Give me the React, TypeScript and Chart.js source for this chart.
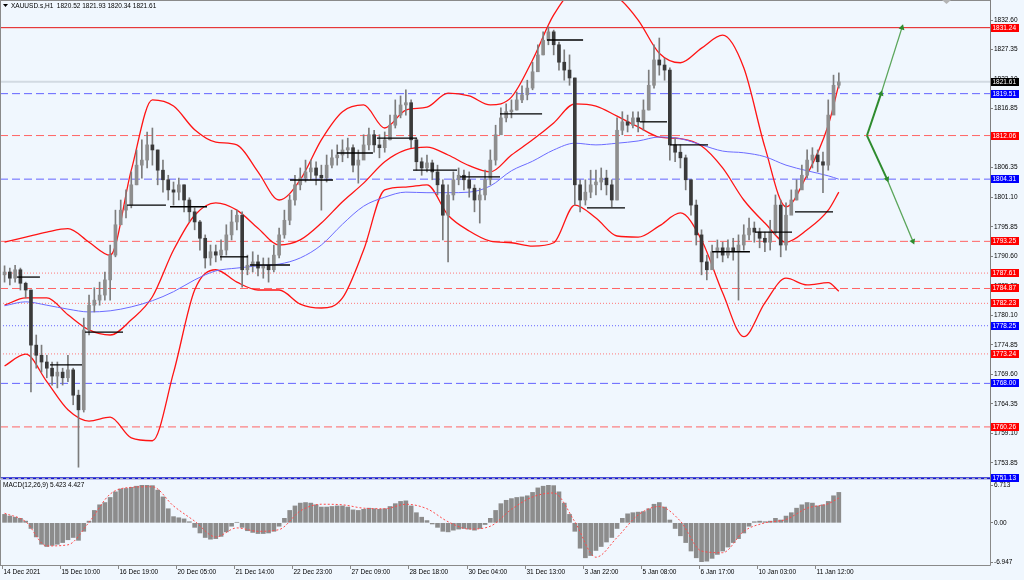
import React, { useEffect, useRef } from 'react';
import { Chart, registerables } from 'chart.js';
Chart.register(...registerables);

const FONT = '"Liberation Sans", Arial, sans-serif';
const BG = '#f0f7fe';

// ---------------- data ----------------
const symbolTitle = 'XAUUSD.s,H1  1820.52 1821.93 1820.34 1821.61';
const macdTitle = 'MACD(12,26,9) 5.423 4.427';
const barHoursStep = 3; // each candle = 3 hours

const opens = [
  1787.3, 1787.8, 1786.7, 1788.2, 1785.8, 1784.6, 1774.8, 1773.0, 1771.8, 1770.7,
  1769.3, 1770.0, 1769.0, 1770.4, 1765.9, 1763.3, 1777.5, 1781.9, 1782.8, 1783.7,
  1786.4, 1790.8, 1796.2, 1798.8, 1799.7, 1803.3, 1806.8, 1807.7, 1810.4, 1809.5,
  1805.9, 1804.2, 1802.4, 1802.0, 1803.3, 1800.6, 1798.5, 1796.7, 1793.8, 1790.3,
  1791.4, 1790.8, 1791.7, 1794.4, 1796.7, 1797.9, 1788.2, 1789.0, 1789.6, 1788.5,
  1789.0, 1788.2, 1790.8, 1794.4, 1797.0, 1800.6, 1803.3, 1804.5, 1805.6, 1806.3,
  1805.0, 1804.5, 1806.8, 1808.1, 1808.6, 1809.5, 1809.9, 1806.8, 1807.7, 1810.4,
  1812.2, 1810.4, 1809.9, 1811.3, 1813.9, 1815.7, 1817.5, 1817.9, 1811.3, 1807.4,
  1806.3, 1807.2, 1805.6, 1803.3, 1797.9, 1801.5, 1804.2, 1805.0, 1804.2, 1802.7,
  1800.6, 1801.5, 1804.2, 1807.7, 1812.2, 1815.2, 1816.3, 1816.6, 1818.4, 1819.3,
  1820.5, 1823.4, 1826.4, 1829.0, 1830.5, 1828.2, 1825.1, 1823.7, 1822.3, 1803.3,
  1800.6, 1802.0, 1803.3, 1803.8, 1804.5, 1803.3, 1800.6, 1813.0, 1814.5, 1813.9,
  1815.2, 1814.5, 1816.6, 1821.0, 1825.5, 1824.6, 1823.7, 1810.4, 1809.1, 1808.1,
  1804.2, 1799.7, 1794.4, 1789.6, 1788.2, 1791.4, 1792.1, 1790.8, 1792.1, 1791.4,
  1792.6, 1794.4, 1795.6, 1794.9, 1793.8, 1793.1, 1794.9, 1799.7, 1792.6, 1797.9,
  1800.6, 1802.4, 1805.0, 1807.7, 1808.6, 1807.4, 1806.8, 1815.7, 1821.0,
];
const highs = [
  1788.9, 1788.5, 1789.0, 1788.5, 1786.0, 1784.6, 1776.6, 1774.8, 1773.0, 1771.8,
  1771.8, 1770.7, 1773.0, 1770.7, 1766.8, 1779.6, 1783.7, 1785.0, 1786.0, 1787.8,
  1792.6, 1798.8, 1800.6, 1802.4, 1805.6, 1809.5, 1811.3, 1812.7, 1813.4, 1809.5,
  1807.7, 1805.0, 1803.8, 1804.5, 1803.3, 1801.0, 1799.2, 1797.0, 1794.4, 1792.6,
  1792.6, 1793.5, 1796.2, 1798.8, 1798.8, 1798.5, 1790.8, 1791.4, 1790.8, 1790.3,
  1790.3, 1792.6, 1795.6, 1798.8, 1801.5, 1805.0, 1806.3, 1807.7, 1807.7, 1807.4,
  1806.8, 1808.6, 1809.5, 1810.4, 1811.3, 1811.6, 1810.4, 1809.5, 1812.2, 1813.4,
  1813.0, 1812.2, 1812.7, 1815.7, 1818.4, 1819.1, 1820.2, 1818.4, 1811.6, 1808.1,
  1808.6, 1807.7, 1806.8, 1804.2, 1803.3, 1805.6, 1806.3, 1805.9, 1805.6, 1803.3,
  1802.7, 1805.9, 1809.5, 1813.9, 1817.0, 1817.7, 1818.4, 1819.8, 1820.9, 1821.9,
  1825.1, 1828.2, 1830.5, 1831.4, 1830.8, 1828.7, 1827.3, 1826.4, 1822.3, 1804.2,
  1804.2, 1805.9, 1805.9, 1806.3, 1805.9, 1804.2, 1815.2, 1816.3, 1815.7, 1816.3,
  1816.3, 1818.4, 1823.7, 1828.2, 1829.4, 1825.8, 1824.1, 1811.6, 1810.4, 1808.6,
  1804.2, 1800.6, 1795.3, 1790.8, 1792.6, 1793.5, 1793.1, 1793.5, 1793.8, 1794.4,
  1796.2, 1797.4, 1796.7, 1795.6, 1794.9, 1797.0, 1801.5, 1800.6, 1800.1, 1802.4,
  1804.2, 1806.8, 1809.5, 1809.9, 1809.5, 1809.1, 1818.4, 1822.8, 1823.2,
];
const lows = [
  1786.0, 1785.5, 1786.0, 1784.6, 1783.2, 1766.5, 1770.7, 1770.0, 1769.0, 1767.7,
  1767.2, 1767.7, 1768.3, 1764.2, 1753.1, 1762.9, 1776.6, 1780.7, 1781.9, 1782.8,
  1782.8, 1790.5, 1796.2, 1797.4, 1799.2, 1803.3, 1804.5, 1806.3, 1806.8, 1803.3,
  1802.0, 1800.6, 1799.7, 1800.6, 1798.5, 1796.7, 1795.3, 1791.7, 1788.5, 1789.0,
  1789.6, 1789.9, 1790.8, 1793.5, 1795.3, 1785.1, 1787.3, 1787.8, 1787.1, 1786.7,
  1786.0, 1787.8, 1790.3, 1793.8, 1796.2, 1799.7, 1802.4, 1803.8, 1804.2, 1803.3,
  1798.8, 1803.8, 1806.3, 1806.8, 1807.4, 1808.1, 1805.6, 1803.6, 1808.1, 1809.5,
  1809.1, 1808.1, 1809.1, 1811.3, 1813.4, 1815.2, 1815.7, 1809.9, 1805.9, 1805.0,
  1805.6, 1804.2, 1801.5, 1793.5, 1789.6, 1800.6, 1803.3, 1802.4, 1801.1, 1798.5,
  1796.5, 1800.6, 1803.3, 1806.8, 1812.2, 1814.5, 1815.2, 1816.6, 1817.9, 1818.4,
  1820.2, 1823.4, 1826.4, 1828.2, 1826.4, 1823.7, 1821.9, 1821.0, 1799.7, 1798.5,
  1799.7, 1801.0, 1801.5, 1802.4, 1801.5, 1799.4, 1800.6, 1812.2, 1812.7, 1813.4,
  1812.7, 1813.0, 1816.6, 1820.5, 1822.8, 1821.9, 1807.7, 1807.4, 1806.3, 1802.4,
  1797.9, 1792.6, 1787.3, 1786.4, 1788.5, 1790.3, 1789.6, 1790.3, 1789.9, 1782.8,
  1791.7, 1793.5, 1793.1, 1792.1, 1791.4, 1791.7, 1794.4, 1790.5, 1791.7, 1798.5,
  1800.6, 1802.7, 1804.5, 1806.3, 1805.6, 1801.9, 1805.9, 1816.6, 1820.5,
];
const closes = [
  1787.8, 1786.7, 1788.2, 1785.8, 1784.6, 1774.8, 1773.0, 1771.8, 1770.7, 1769.3,
  1770.0, 1769.0, 1770.4, 1765.9, 1763.3, 1777.5, 1781.9, 1782.8, 1783.7, 1786.4,
  1790.8, 1796.2, 1798.8, 1799.7, 1803.3, 1806.8, 1807.7, 1810.4, 1809.5, 1805.9,
  1804.2, 1802.4, 1802.0, 1803.3, 1800.6, 1798.5, 1796.7, 1793.8, 1790.3, 1791.4,
  1790.8, 1791.7, 1794.4, 1796.7, 1797.9, 1788.2, 1789.0, 1789.6, 1788.5, 1789.0,
  1788.2, 1790.8, 1794.4, 1797.0, 1800.6, 1803.3, 1804.5, 1805.6, 1806.3, 1805.0,
  1804.5, 1806.8, 1808.1, 1808.6, 1809.5, 1809.9, 1806.8, 1807.7, 1810.4, 1812.2,
  1810.4, 1809.9, 1811.3, 1813.9, 1815.7, 1817.5, 1817.9, 1811.3, 1807.4, 1806.3,
  1807.2, 1805.6, 1803.3, 1797.9, 1801.5, 1804.2, 1805.0, 1804.2, 1802.7, 1800.6,
  1801.5, 1804.2, 1807.7, 1812.2, 1815.2, 1816.3, 1816.6, 1818.4, 1819.3, 1820.5,
  1823.4, 1826.4, 1829.0, 1830.5, 1828.2, 1825.1, 1823.7, 1822.3, 1803.3, 1800.6,
  1802.0, 1803.3, 1803.8, 1804.5, 1803.3, 1800.6, 1813.0, 1814.5, 1813.9, 1815.2,
  1814.5, 1816.6, 1821.0, 1825.5, 1824.6, 1823.7, 1810.4, 1809.1, 1808.1, 1804.2,
  1799.7, 1794.4, 1789.6, 1788.2, 1791.4, 1792.1, 1790.8, 1792.1, 1791.4, 1792.6,
  1794.4, 1795.6, 1794.9, 1793.8, 1793.1, 1794.9, 1799.7, 1792.6, 1797.9, 1800.6,
  1802.4, 1805.0, 1807.7, 1808.6, 1807.4, 1806.8, 1815.7, 1821.0, 1821.6,
];

// indicator samples (every 4th candle + last)
const bandHours = [
  1.5, 13.5, 25.5, 37.5, 49.5, 61.5, 73.5, 85.5, 97.5, 109.5,
  121.5, 133.5, 145.5, 157.5, 169.5, 181.5, 193.5, 205.5, 217.5, 229.5,
  241.5, 253.5, 265.5, 277.5, 289.5, 301.5, 313.5, 325.5, 337.5, 349.5,
  361.5, 373.5, 385.5, 397.5, 409.5, 421.5, 433.5, 445.5, 457.5, 469.5, 475.5,
];
const upperBand = [
  1793.1, 1794.0, 1794.9, 1795.5, 1793.1, 1790.8, 1805.9, 1818.4, 1817.3, 1813.1,
  1810.9, 1810.4, 1805.6, 1800.6, 1804.2, 1811.3, 1816.3, 1817.5, 1813.4, 1816.6,
  1817.1, 1819.6, 1819.1, 1817.5, 1818.9, 1825.5, 1833.5, 1837.6, 1837.6, 1836.7,
  1832.6, 1826.7, 1825.0, 1827.6, 1829.9, 1824.1, 1810.0, 1799.4, 1805.1, 1813.9, 1821.1,
];
const middleBand = [
  1781.9, 1783.2, 1783.2, 1780.2, 1777.5, 1776.6, 1779.3, 1783.4, 1791.7, 1797.9,
  1800.1, 1798.8, 1795.6, 1792.6, 1793.5, 1796.5, 1800.3, 1803.6, 1807.4, 1809.5,
  1810.0, 1808.6, 1806.7, 1805.6, 1808.6, 1811.3, 1814.3, 1817.7, 1817.3, 1815.5,
  1813.6, 1811.8, 1811.5, 1810.2, 1806.3, 1800.6, 1796.5, 1793.1, 1795.3, 1798.8, 1802.0,
];
const lowerBand = [
  1771.1, 1773.2, 1768.3, 1763.3, 1761.3, 1762.0, 1758.3, 1757.8, 1769.9, 1784.6,
  1788.2, 1786.0, 1784.6, 1784.6, 1782.1, 1781.4, 1783.2, 1791.7, 1802.4, 1802.9,
  1803.3, 1797.9, 1795.1, 1793.3, 1793.0, 1792.4, 1793.0, 1799.7, 1797.4, 1794.2,
  1794.0, 1796.0, 1798.3, 1793.5, 1784.1, 1776.3, 1782.3, 1786.7, 1785.5, 1785.9, 1784.4,
];
const blueMA = [
  1781.8, 1782.5, 1781.9, 1781.2, 1780.7, 1780.9, 1781.6, 1782.7, 1784.3, 1786.4,
  1788.0, 1788.5, 1788.9, 1789.2, 1790.3, 1792.6, 1796.3, 1799.5, 1801.1, 1802.0,
  1801.9, 1801.9, 1802.0, 1803.1, 1805.8, 1807.5, 1809.5, 1810.7, 1810.4, 1810.7,
  1811.1, 1811.8, 1811.5, 1810.4, 1809.3, 1809.0, 1808.3, 1806.8, 1805.8, 1804.9, 1804.3,
];

const macdHist = [
  1.5, 1.2, 1.0, 0.8, 0.3, -1.0, -2.5, -3.8, -4.2, -4.0,
  -3.8, -3.5, -3.0, -2.6, -3.1, -1.5, 0.3, 2.2, 3.2, 3.6,
  4.5, 5.5, 6.0, 6.1, 6.3, 6.5, 6.7, 6.7, 6.6, 5.8,
  4.6, 2.5, 1.1, 0.9, 0.7, 0.2, -0.8, -1.8, -2.6, -2.9,
  -2.8, -2.4, -1.6, -0.6, 0.1, -0.8, -1.4, -1.7, -1.9, -1.9,
  -1.8, -1.5, -0.6, 0.8, 2.2, 3.0, 3.5, 3.6, 3.5, 3.2,
  2.8, 2.8, 2.9, 3.0, 3.0, 2.8, 2.3, 2.2, 2.4, 2.6,
  2.5, 2.4, 2.5, 2.9, 3.4, 3.8, 3.9, 3.0, 1.8, 1.0,
  0.4, -0.2, -0.8, -1.5, -1.6, -1.3, -1.1, -1.0, -1.1, -1.3,
  -1.0, -0.3, 0.8, 2.2, 3.4, 4.0, 4.3, 4.5, 4.6, 4.8,
  5.4, 6.2, 6.5, 6.7, 6.6, 5.5, 3.5, 1.5, -1.5, -4.5,
  -6.2, -5.8, -4.9, -4.2, -3.4, -2.6, -1.0, 0.8, 1.6, 1.8,
  1.9, 2.0, 2.5, 3.3, 3.6, 2.8, 0.5, -1.0, -2.3, -3.5,
  -5.0, -6.2, -6.95, -6.8, -6.3, -5.6, -5.0, -4.3, -3.5, -2.8,
  -1.8, -0.6, 0.2, 0.3, 0.2, 0.3, 0.8, 0.5, 1.2, 1.8,
  2.6, 3.2, 3.6, 3.5, 3.0, 3.2, 3.8, 4.8, 5.4,
];
const macdSignal = [
  1.7, 0.2, -4.1, -3.9, 0.1, 5.1, 6.3, 6.4, 3.0, 0.3,
  -2.5, -0.9, -1.5, -1.2, 2.1, 3.3, 3.2, 2.6, 2.5, 3.3,
  2.5, 0.2, -1.1, -0.6, 2.4, 4.6, 5.3, 0.2, -6.1, -2.6,
  1.4, 2.9, 0.3, -5.0, -5.3, -1.5, 0.0, 0.6, 2.6, 3.4, 4.4,
];

const xTickHours = [0, 33, 66, 99, 132, 165, 198, 231, 264, 297, 330, 363, 396, 429, 462];
const xTickLabels = [
  '14 Dec 2021', '15 Dec 10:00', '16 Dec 19:00', '20 Dec 05:00', '21 Dec 14:00',
  '22 Dec 23:00', '27 Dec 09:00', '28 Dec 18:00', '30 Dec 04:00', '31 Dec 13:00',
  '3 Jan 22:00', '5 Jan 08:00', '6 Jan 17:00', '10 Jan 03:00', '11 Jan 12:00',
];
const priceTicks = [
  1832.6, 1827.35, 1822.1, 1816.85, 1811.6, 1806.35, 1801.1, 1795.85,
  1790.6, 1785.35, 1780.1, 1774.85, 1769.6, 1764.35, 1759.1, 1753.85,
];
const macdTicks = [6.713, 0, -6.947];
const macdTickLabels = ['6.713', '0.00', '-6.947'];

const levelPrices = [
  1831.24, 1821.61, 1819.51, 1812.06, 1804.31, 1793.25, 1787.61,
  1784.87, 1782.23, 1778.25, 1773.24, 1768.0, 1760.26, 1751.13,
];
const levelKinds = [
  'redSolid', 'graySolid', 'blueDash', 'redDash', 'blueDash', 'redDash', 'redDot',
  'redDash', 'redDot', 'blueDot', 'redDot', 'blueDash', 'redDash', 'blueSolid',
];

const segStart = [8.6, 27.3, 47.2, 71.1, 95.5, 123.9, 140.9, 163.7, 190.4, 213.1, 233.6, 260.3, 283.0, 309.7, 332.4, 362.5, 379.6, 403.5, 427.9, 450.6];
const segEnd = [21.6, 45.5, 68.8, 93.2, 116.5, 139.8, 163.7, 188.1, 210.8, 235.8, 258.6, 283.0, 306.9, 330.2, 354.0, 377.9, 401.2, 425.0, 448.9, 472.2];
const segPrice = [1786.9, 1771.3, 1777.1, 1799.7, 1799.4, 1790.5, 1789.05, 1804.16, 1808.96, 1811.6, 1805.9, 1804.7, 1815.9, 1829.05, 1799.2, 1814.5, 1810.4, 1791.4, 1794.9, 1798.5];

const arrowUpHours = [491.5, 499.5, 511.4];
const arrowUpPrices = [1812.06, 1819.51, 1831.24];
const arrowDownHours = [491.5, 502.9, 517.6];
const arrowDownPrices = [1812.06, 1804.31, 1793.25];

// ---------------- view / style ----------------
const X_MIN = -1.09;
const X_MAX = 561.4;
const P_MIN = 1751.0;
const P_MAX = 1836.16;

const levelStyle: Record<string, { color: string; dash: number[]; width: number; box: string }> = {
  redSolid: { color: '#e41414', dash: [], width: 1, box: '#ff0000' },
  graySolid: { color: '#d2dae2', dash: [], width: 2, box: '#000000' },
  blueDash: { color: '#6464ff', dash: [8, 4], width: 1, box: '#0000ff' },
  redDash: { color: '#ff6464', dash: [8, 4], width: 1, box: '#ff0000' },
  redDot: { color: '#ff7878', dash: [1, 2], width: 1, box: '#ff0000' },
  blueDot: { color: '#6464ff', dash: [1, 2], width: 1, box: '#0000ff' },
  blueSolid: { color: '#1a1acc', dash: [], width: 2, box: '#0000ff' },
};

const barHour = (i: number) => i * barHoursStep + barHoursStep / 2;

const fixAxis = (s: any) => {
  s.width = 34;
  s.paddingTop = 0;
  s.paddingBottom = 0;
};

const arrowRotation = (c: any) => {
  if (c.type !== 'data') return 0;
  const ch = c.chart;
  const xs = ch.scales.x;
  const ys = ch.scales.y;
  const d = c.dataset.data;
  const i = Math.max(1, c.dataIndex);
  const a = d[i - 1];
  const b = d[i];
  const dx = xs.getPixelForValue(b.x) - xs.getPixelForValue(a.x);
  const dy = ys.getPixelForValue(b.y) - ys.getPixelForValue(a.y);
  return (Math.atan2(dx, -dy) * 180) / Math.PI;
};

const priceDecor = {
  id: 'priceDecor',
  afterDraw(chart: any) {
    const { ctx, chartArea: a, scales } = chart;
    const ys = scales.y;
    ctx.save();
    ctx.strokeStyle = '#8a8a8a';
    ctx.lineWidth = 1;
    ctx.beginPath();
    ctx.moveTo(0.5, 0);
    ctx.lineTo(0.5, a.bottom);
    ctx.moveTo(0, 0.5);
    ctx.lineTo(a.right, 0.5);
    ctx.stroke();
    // pane separator dashes
    ctx.strokeStyle = '#a8aeb6';
    ctx.setLineDash([3, 3]);
    ctx.beginPath();
    ctx.moveTo(0, 478.5);
    ctx.lineTo(a.right, 478.5);
    ctx.stroke();
    ctx.setLineDash([]);
    // title
    ctx.fillStyle = '#000';
    ctx.beginPath();
    ctx.moveTo(3, 4);
    ctx.lineTo(8, 4);
    ctx.lineTo(5.5, 7);
    ctx.closePath();
    ctx.fill();
    ctx.font = `6.5px ${FONT}`;
    ctx.textBaseline = 'middle';
    ctx.textAlign = 'left';
    ctx.fillText(symbolTitle, 11, 6.5);
    // chart shift marker
    ctx.fillStyle = '#b4b4b4';
    ctx.beginPath();
    ctx.moveTo(942, 0);
    ctx.lineTo(951, 0);
    ctx.lineTo(946.5, 4);
    ctx.closePath();
    ctx.fill();
    // level price labels
    levelPrices.forEach((p, i) => {
      const st = levelStyle[levelKinds[i]];
      const py = Math.round(ys.getPixelForValue(p));
      ctx.fillStyle = st.box;
      ctx.fillRect(a.right + 1, py - 4, 28, 8);
      ctx.fillStyle = '#ffffff';
      ctx.fillText(p.toFixed(2), a.right + 2.5, py + 0.5);
    });
    ctx.restore();
  },
};

const macdDecor = {
  id: 'macdDecor',
  afterDraw(chart: any) {
    const { ctx, chartArea: a, scales } = chart;
    const xs = scales.x;
    ctx.save();
    ctx.strokeStyle = '#8a8a8a';
    ctx.lineWidth = 1;
    ctx.beginPath();
    ctx.moveTo(0.5, 1);
    ctx.lineTo(0.5, 86.5);
    ctx.moveTo(0, 86.5);
    ctx.lineTo(a.right + 0.5, 86.5);
    ctx.moveTo(a.right + 0.5, 1);
    ctx.lineTo(a.right + 0.5, 86.5);
    ctx.stroke();
    ctx.fillStyle = '#000';
    ctx.font = `6.5px ${FONT}`;
    ctx.textBaseline = 'middle';
    ctx.textAlign = 'left';
    ctx.fillText(macdTitle, 3, 6.5);
    xTickHours.forEach((h, i) => {
      const px = Math.round(xs.getPixelForValue(h)) + 0.5;
      ctx.beginPath();
      ctx.moveTo(px, 86.5);
      ctx.lineTo(px, 90);
      ctx.stroke();
      ctx.fillText(xTickLabels[i], px + 1, 93.5);
    });
    ctx.restore();
  },
};

function buildPriceConfig(): any {
  const datasets: any[] = [];
  levelPrices.forEach((p, i) => {
    const st = levelStyle[levelKinds[i]];
    datasets.push({
      type: 'line',
      data: [{ x: X_MIN, y: p }, { x: X_MAX, y: p }],
      borderColor: st.color,
      borderDash: st.dash,
      borderWidth: st.width,
      pointRadius: 0,
      clip: false,
      order: 20,
    });
  });
  const bandLine = (vals: number[], color: string, width: number) => ({
    type: 'line',
    data: bandHours.map((h, k) => ({ x: h, y: vals[k] })),
    borderColor: color,
    borderWidth: width,
    pointRadius: 0,
    cubicInterpolationMode: 'monotone',
    order: 15,
  });
  datasets.push(bandLine(blueMA, '#6b6bff', 1));
  datasets.push(bandLine(upperBand, '#ff1414', 1.3));
  datasets.push(bandLine(middleBand, '#ff1414', 1.3));
  datasets.push(bandLine(lowerBand, '#ff1414', 1.3));

  datasets.push({
    type: 'bar',
    data: closes.map((_, i) => ({ x: barHour(i), y: [lows[i], highs[i]] })),
    backgroundColor: '#7c7c7c',
    barThickness: 1,
    grouped: false,
    order: 10,
  });
  datasets.push({
    type: 'bar',
    data: closes.map((c, i) => ({ x: barHour(i), y: [opens[i], c] })),
    backgroundColor: closes.map((c, i) => (c >= opens[i] ? '#8e8e8e' : '#3a3a3a')),
    barThickness: 3,
    minBarLength: 1,
    grouped: false,
    order: 9,
  });

  segPrice.forEach((p, i) => {
    datasets.push({
      type: 'line',
      data: [{ x: segStart[i], y: p }, { x: segEnd[i], y: p }],
      borderColor: '#000000',
      borderWidth: 1.3,
      pointRadius: 0,
      order: 5,
    });
  });

  const arrow = (hrs: number[], prices: number[]) => ({
    type: 'line',
    data: hrs.map((h, k) => ({ x: h, y: prices[k] })),
    borderColor: '#2e8b2e',
    backgroundColor: '#2e8b2e',
    borderWidth: 2,
    pointStyle: 'triangle',
    pointRadius: (c: any) => (c.dataIndex === 0 ? 0 : 3.5),
    pointBorderWidth: 0,
    rotation: arrowRotation,
    segment: {
      borderWidth: (c: any) => (c.p0DataIndex === 0 ? 2 : 1.3),
      borderColor: (c: any) => (c.p0DataIndex === 0 ? '#2e8b2e' : '#5aa55a'),
    },
    clip: false,
    order: 1,
  });
  datasets.push(arrow(arrowUpHours, arrowUpPrices));
  datasets.push(arrow(arrowDownHours, arrowDownPrices));

  return {
    type: 'bar',
    data: { datasets },
    options: {
      animation: false,
      responsive: false,
      maintainAspectRatio: false,
      events: [],
      layout: { padding: { top: 0, left: 0, right: 0, bottom: 11 }, autoPadding: false },
      plugins: { legend: { display: false }, tooltip: { enabled: false } },
      scales: {
        x: { type: 'linear', min: X_MIN, max: X_MAX, display: false, offset: false, grid: { offset: false } },
        y: {
          type: 'linear',
          position: 'right',
          min: P_MIN,
          max: P_MAX,
          beginAtZero: false,
          afterBuildTicks: (s: any) => {
            s.ticks = priceTicks.map((v) => ({ value: v }));
          },
          afterFit: fixAxis,
          ticks: {
            autoSkip: false,
            padding: 1,
            color: '#000',
            font: { family: FONT, size: 6.5 },
            callback: (v: any) => Number(v).toFixed(2),
          },
          grid: { drawOnChartArea: false, drawTicks: true, tickLength: 3, color: '#808080' },
          border: { display: true, color: '#808080' },
        },
      },
    },
    plugins: [priceDecor],
  };
}

function buildMacdConfig(): any {
  return {
    type: 'bar',
    data: {
      datasets: [
        {
          type: 'line',
          data: bandHours.map((h, k) => ({ x: h, y: macdSignal[k] })),
          borderColor: '#ff4a4a',
          borderWidth: 1,
          borderDash: [2, 2],
          pointRadius: 0,
          cubicInterpolationMode: 'monotone',
          order: 1,
        },
        {
          type: 'bar',
          data: macdHist.map((v, i) => ({ x: barHour(i), y: v })),
          backgroundColor: '#8c8c8c',
          barThickness: 4,
          grouped: false,
          order: 2,
        },
      ],
    },
    options: {
      animation: false,
      responsive: false,
      maintainAspectRatio: false,
      events: [],
      layout: { padding: { top: 6, left: 0, right: 0, bottom: 18 }, autoPadding: false },
      plugins: { legend: { display: false }, tooltip: { enabled: false } },
      scales: {
        x: { type: 'linear', min: X_MIN, max: X_MAX, display: false, offset: false, grid: { offset: false } },
        y: {
          type: 'linear',
          position: 'right',
          min: -6.947,
          max: 6.713,
          beginAtZero: false,
          afterBuildTicks: (s: any) => {
            s.ticks = macdTicks.map((v) => ({ value: v }));
          },
          afterFit: fixAxis,
          ticks: {
            autoSkip: false,
            padding: 1,
            color: '#000',
            font: { family: FONT, size: 6.5 },
            callback: (v: any) => {
              const k = macdTicks.indexOf(Number(v));
              return k >= 0 ? macdTickLabels[k] : '';
            },
          },
          grid: { drawOnChartArea: false, drawTicks: true, tickLength: 3, color: '#808080' },
          border: { display: false },
        },
      },
    },
    plugins: [macdDecor],
  };
}

export default function App() {
  const priceRef = useRef<HTMLCanvasElement>(null);
  const macdRef = useRef<HTMLCanvasElement>(null);
  useEffect(() => {
    const pc = new Chart(priceRef.current as HTMLCanvasElement, buildPriceConfig());
    const mc = new Chart(macdRef.current as HTMLCanvasElement, buildMacdConfig());
    return () => {
      pc.destroy();
      mc.destroy();
    };
  }, []);
  return (
    <div style={{ position: 'fixed', left: 0, top: 0, width: 1024, height: 580, background: BG, overflow: 'hidden' }}>
      <canvas
        ref={priceRef}
        width={1024}
        height={490}
        style={{ position: 'absolute', left: 0, top: 0, width: 1024, height: 490 }}
      />
      <canvas
        ref={macdRef}
        width={1024}
        height={101}
        style={{ position: 'absolute', left: 0, top: 479, width: 1024, height: 101 }}
      />
    </div>
  );
}
